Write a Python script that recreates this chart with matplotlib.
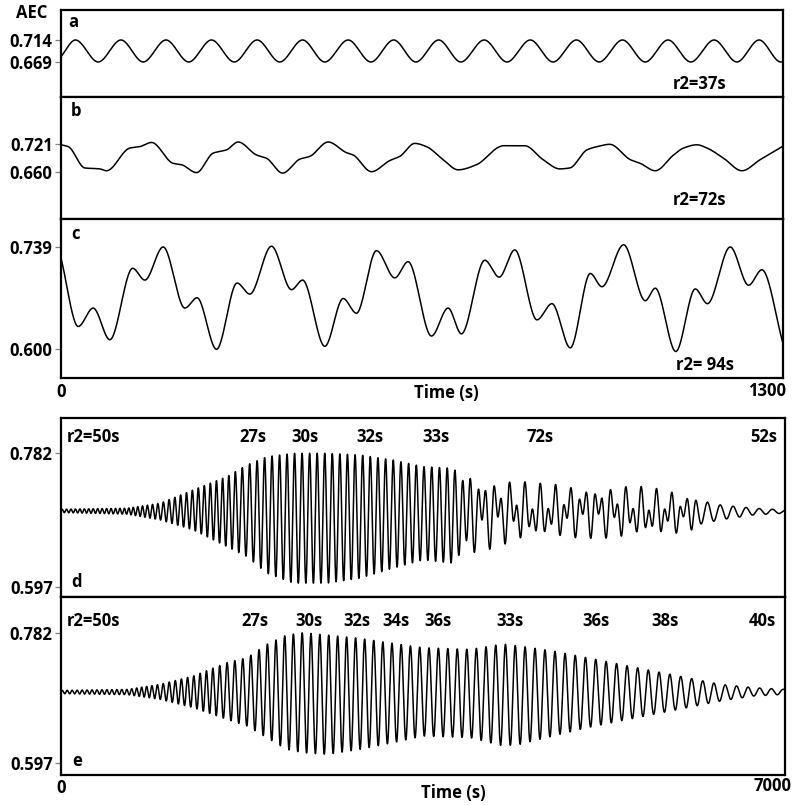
import numpy as np
import matplotlib
matplotlib.use("Agg")
import matplotlib.pyplot as plt

plt.rcParams['font.family'] = ['Open Sans', 'DejaVu Sans']
plt.rcParams['font.weight'] = 'bold'

# ---------------- data ----------------
# panel a: extrema of AEC (time s, value)
a_t = [0, 26, 67, 108, 148, 189, 230, 271, 312, 353, 394, 435, 475, 517, 558, 599,
       639, 680, 720, 762, 803, 845, 886, 928, 969, 1011, 1052, 1093, 1134, 1176,
       1217, 1257, 1296, 1300]
a_v = [0.680, 0.714, 0.669, 0.714, 0.669, 0.714, 0.669, 0.714, 0.669, 0.714, 0.669,
       0.714, 0.669, 0.714, 0.669, 0.714, 0.669, 0.714, 0.669, 0.714, 0.669, 0.714,
       0.669, 0.714, 0.669, 0.714, 0.669, 0.714, 0.669, 0.714, 0.669, 0.714, 0.669,
       0.669]

# panel b: key points of AEC
b_t = [0, 13, 43, 70, 82, 124, 142, 163, 202, 217, 244, 274, 298, 319, 352, 370,
       399, 430, 448, 481, 514, 526, 559, 592, 610, 637, 658, 688, 715, 748, 790,
       796, 835, 868, 898, 916, 947, 965, 988, 1025, 1043, 1070, 1103, 1121, 1145,
       1163, 1193, 1226, 1259, 1300]
b_v = [0.719, 0.715, 0.669, 0.667, 0.663, 0.712, 0.715, 0.724, 0.679, 0.676, 0.659,
       0.701, 0.708, 0.725, 0.697, 0.690, 0.658, 0.688, 0.694, 0.725, 0.702, 0.697,
       0.661, 0.685, 0.694, 0.722, 0.715, 0.687, 0.665, 0.676, 0.715, 0.717, 0.717,
       0.687, 0.667, 0.669, 0.708, 0.715, 0.720, 0.687, 0.679, 0.663, 0.697, 0.712,
       0.719, 0.712, 0.690, 0.663, 0.687, 0.716]

# panel c: extrema of AEC
c_t = [0, 31, 58, 88, 129, 151, 184, 223, 245, 280, 317, 340, 379, 415, 435, 475,
       508, 532, 568, 601, 625, 667, 697, 721, 763, 789, 817, 857, 884, 917, 953,
       974, 1013, 1052, 1070, 1107, 1142, 1164, 1205, 1238, 1262, 1300]
c_v = [0.724, 0.631, 0.656, 0.613, 0.710, 0.694, 0.739, 0.656, 0.670, 0.600, 0.690,
       0.675, 0.740, 0.681, 0.694, 0.604, 0.669, 0.649, 0.734, 0.697, 0.719, 0.618,
       0.656, 0.621, 0.721, 0.698, 0.735, 0.640, 0.662, 0.602, 0.703, 0.685, 0.742,
       0.666, 0.683, 0.597, 0.682, 0.662, 0.739, 0.687, 0.708, 0.608]

# panel d: upper / lower envelope, visible cycle length, beat weight
d_env_t = [0, 640, 957, 1277, 1603, 1798, 1990, 2245, 2572, 2891, 3210, 3500, 3790,
           3826, 4277, 4600, 5083, 5500, 5900, 6082, 6147, 6372, 6694, 6984, 7000]
d_up = [0.7044, 0.7058, 0.7127, 0.7311, 0.7496, 0.7658, 0.7773, 0.7820, 0.7820,
        0.7797, 0.7727, 0.7635, 0.7612, 0.7566, 0.7496, 0.7404, 0.7404, 0.7380,
        0.7311, 0.7242, 0.7173, 0.7104, 0.7058, 0.7035, 0.7035]
d_lo = [0.6998, 0.6975, 0.6896, 0.6757, 0.6526, 0.6387, 0.6156, 0.6018, 0.6018,
        0.6087, 0.6226, 0.6341, 0.6295, 0.6387, 0.6526, 0.6596, 0.6642, 0.6620,
        0.6665, 0.6734, 0.6827, 0.6896, 0.6965, 0.6988, 0.6988]
d_per_t = [0, 700, 1000, 1600, 1800, 3800, 6100, 6200, 7000]
d_per = [43, 43, 55, 60, 72, 75, 75, 122, 130]
d_beat_t = [0, 3800, 4100, 6080, 6150, 7000]
d_beat_w = [0.0, 0.0, 0.45, 0.45, 0.0, 0.0]
d_per2 = 140

# panel e: upper / lower envelope, visible cycle length
e_env_t = [0, 640, 957, 1277, 1603, 1798, 1990, 2180, 2342, 2572, 2891, 3210, 3500,
           3955, 4274, 4435, 4757, 5086, 5408, 5731, 6054, 6376, 6699, 7000]
e_up = [0.7003, 0.7017, 0.7088, 0.7206, 0.7395, 0.7466, 0.7655, 0.7787, 0.7820,
        0.7787, 0.7740, 0.7669, 0.7608, 0.7584, 0.7660, 0.7631, 0.7561, 0.7466,
        0.7372, 0.7277, 0.7182, 0.7088, 0.7041, 0.7017]
e_lo = [0.6956, 0.6942, 0.6876, 0.6758, 0.6593, 0.6498, 0.6333, 0.6167, 0.6120,
        0.6096, 0.6167, 0.6262, 0.6356, 0.6333, 0.6215, 0.6238, 0.6356, 0.6474,
        0.6569, 0.6663, 0.6758, 0.6852, 0.6923, 0.6947]
e_per_t = [0, 800, 1000, 1450, 1600, 2100, 3500, 4750, 6050, 7000]
e_per = [48, 48, 58, 62, 74, 84, 90, 97, 106, 115]

# tick labels and annotations
a_ticks = [0.669, 0.714]
b_ticks = [0.660, 0.721]
c_ticks = [0.600, 0.739]
de_ticks = [0.597, 0.782]
d_labels = ["r2=50s", "27s", "30s", "32s", "33s", "72s", "52s"]
e_labels = ["r2=50s", "27s", "30s", "32s", "34s", "36s", "33s", "36s", "38s", "40s"]


# ---------------- helpers ----------------
def pchip(x, y, xi):
    x = np.asarray(x, float)
    y = np.asarray(y, float)
    h = np.diff(x)
    delta = np.diff(y) / h
    n = len(x)
    d = np.zeros(n)
    for k in range(1, n - 1):
        if delta[k - 1] * delta[k] > 0:
            w1 = 2 * h[k] + h[k - 1]
            w2 = h[k] + 2 * h[k - 1]
            d[k] = (w1 + w2) / (w1 / delta[k - 1] + w2 / delta[k])
    d[0] = delta[0]
    d[-1] = delta[-1]
    idx = np.clip(np.searchsorted(x, xi) - 1, 0, n - 2)
    hh = h[idx]
    s = (xi - x[idx]) / hh
    h00 = 2 * s**3 - 3 * s**2 + 1
    h10 = s**3 - 2 * s**2 + s
    h01 = -2 * s**3 + 3 * s**2
    h11 = s**3 - s**2
    return h00 * y[idx] + h10 * hh * d[idx] + h01 * y[idx + 1] + h11 * hh * d[idx + 1]


def oscillation(t, env_t, up, lo, per_t, per, beat_t=None, beat_w=None, per2=None):
    upper = np.interp(t, env_t, up)
    lower = np.interp(t, env_t, lo)
    mid = (upper + lower) / 2
    half = (upper - lower) / 2
    period = np.interp(t, per_t, per)
    dt = np.gradient(t)
    phase = 2 * np.pi * np.cumsum(dt / period)
    s = np.sin(phase)
    if beat_t is not None:
        w = np.interp(t, beat_t, beat_w)
        s = (1 - w) * s + w * np.sin(2 * np.pi * t / per2 + 1.0)
    return mid + half * s


W, H = 797, 805
fig = plt.figure(figsize=(W / 100, H / 100), dpi=100)


def fx(px):
    return px / W


def fy(py):
    return 1 - py / H


def add_axes(x0, x1, y0, y1):
    return fig.add_axes([fx(x0), fy(y1), fx(x1) - fx(x0), (y1 - y0) / H])


FS = 12
TICKC = '#808080'


def style(ax, xlim, ylim, yt):
    ax.set_xlim(*xlim)
    ax.set_ylim(*ylim)
    ax.set_xticks([])
    ax.set_yticks(yt)
    ax.set_yticklabels([f"{v:.3f}" for v in yt], fontsize=FS, fontweight='bold')
    ax.tick_params(axis='y', length=4.5, width=0.9, color=TICKC, pad=1.5)
    for sp in ax.spines.values():
        sp.set_linewidth(1.6)
        sp.set_color('black')


# ---------------- top group ----------------
axa = add_axes(61, 783, 10, 97)
axb = add_axes(61, 783, 97, 219)
axc = add_axes(61, 783, 219, 378)

ta = np.linspace(0, 1300, 3000)
axa.plot(ta, pchip(a_t, a_v, ta), color='black', lw=1.1)
style(axa, (0, 1300), (0.5974, 0.7753), a_ticks)

axb.plot(ta, pchip(b_t, b_v, ta), color='black', lw=1.1)
style(axb, (0, 1300), (0.559, 0.822), b_ticks)

axc.plot(ta, pchip(c_t, c_v, ta), color='black', lw=1.1)
style(axc, (0, 1300), (0.561, 0.777), c_ticks)

# ---------------- bottom group ----------------
axd = add_axes(61, 785, 417.7, 596.7)
axe = add_axes(61, 785, 596.7, 775)

tb = np.linspace(0, 7000, 28001)
axd.plot(tb, oscillation(tb, d_env_t, d_up, d_lo, d_per_t, d_per,
                         d_beat_t, d_beat_w, d_per2), color='black', lw=1.1)
style(axd, (0, 7000), (0.583, 0.8314), de_ticks)

axe.plot(tb, oscillation(tb, e_env_t, e_up, e_lo, e_per_t, e_per),
         color='black', lw=1.1)
style(axe, (0, 7000), (0.5804, 0.833), de_ticks)

# ---------------- texts ----------------
def T(px, py, s, ha='center'):
    fig.text(fx(px), fy(py), s, ha=ha, va='center', fontsize=FS, fontweight='bold')


T(32, 13, "AEC")
T(73, 22, "a")
T(76, 111, "b")
T(75, 234, "c")
T(76, 582, "d")
T(77, 761, "e")

T(700, 84, "r2=37s")
T(700, 200, "r2=72s")
T(705, 365, "r2= 94s")

T(61, 392, "0")
T(446, 393, "Time (s)")
T(767, 391, "1300")

T(61, 788, "0")
T(453, 793, "Time (s)")
T(772, 786, "7000")

d_x = [94, 253, 305, 370, 436, 540, 764]
for x, s in zip(d_x, d_labels):
    T(x, 437, s)
e_x = [94, 255, 309, 357, 396, 438, 510, 596, 665, 762]
for x, s in zip(e_x, e_labels):
    T(x, 621, s)

fig.savefig("out.png", dpi=100)
